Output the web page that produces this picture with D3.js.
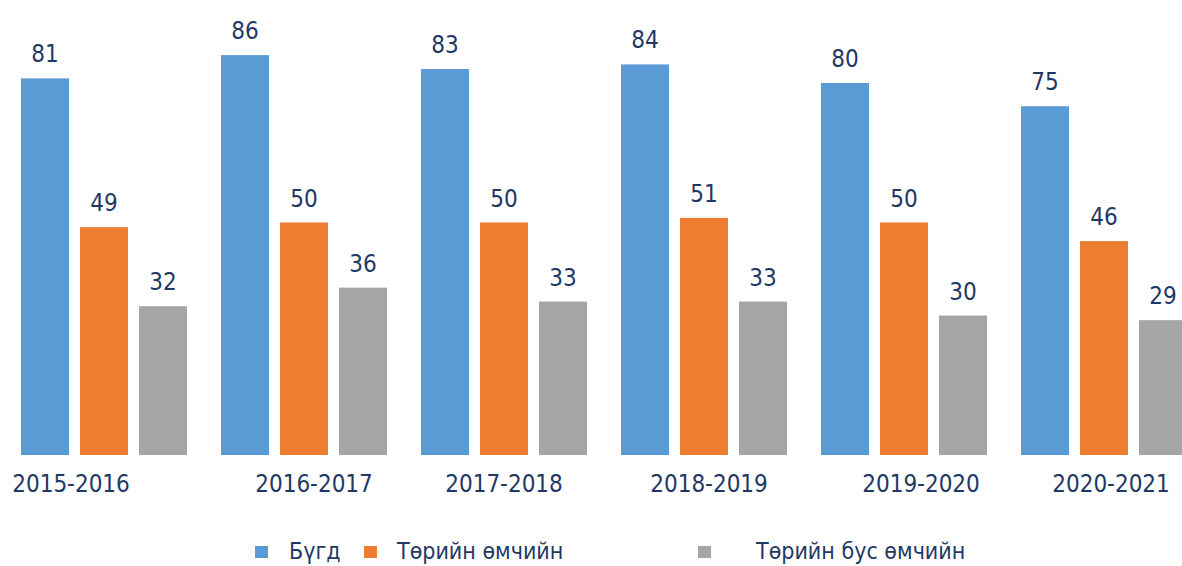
<!DOCTYPE html>
<html>
<head>
<meta charset="utf-8">
<script src="https://cdn.jsdelivr.net/npm/d3@7"></script>
<style>
  body { margin: 0; background: #fff; }
  svg text { font-family: "DejaVu Sans Condensed", "DejaVu Sans", sans-serif; fill: #1f3864; }
</style>
</head>
<body>
<svg id="chart" width="1182" height="566"></svg>
<script>
// chart data
var years = ["2015-2016", "2016-2017", "2017-2018", "2018-2019", "2019-2020", "2020-2021"];
var seriesNames = ["Бүгд", "Төрийн өмчийн", "Төрийн бус өмчийн"];
var total = [81, 86, 83, 84, 80, 75];
var stateOwned = [49, 50, 50, 51, 50, 46];
var nonState = [32, 36, 33, 33, 30, 29];

// layout bits (not data)
var colors = ["#5b9bd5", "#ed7d31", "#a5a5a5"];
var labelShift = [-33, 10, 0, 5, 17, 7];
var legendX = [255, 364, 698];
var legendTextX = [289, 397, 756];

var values = [total, stateOwned, nonState];
var baseline = 455;

var chart = d3.select("#chart");

var x = d3.scaleBand()
  .domain(years)
  .range([4, 1204])
  .paddingInner(0.17)
  .paddingOuter(0.085);

var xs = d3.scaleBand()
  .domain(seriesNames)
  .range([0, x.bandwidth()])
  .paddingInner(0.1864);

var y = d3.scaleLinear().domain([0, 100]).range([baseline, -10]);

// bars + value labels
var group = chart.selectAll("g.year")
  .data(years)
  .enter().append("g")
  .attr("class", "year")
  .attr("transform", function(d){ return "translate(" + x(d) + ",0)"; });

group.each(function(year, i){
  var g = d3.select(this);
  seriesNames.forEach(function(name, s){
    var v = values[s][i];
    g.append("rect")
      .attr("x", xs(name))
      .attr("y", y(v))
      .attr("width", xs.bandwidth())
      .attr("height", baseline - y(v))
      .attr("fill", colors[s]);
    g.append("text")
      .attr("x", xs(name) + xs.bandwidth() / 2)
      .attr("y", y(v) - 16)
      .attr("text-anchor", "middle")
      .style("font-size", "24px")
      .text(v);
  });
});

// category labels
var xAxis = d3.axisBottom(x).tickSize(0).tickPadding(0);
var axisG = chart.append("g")
  .attr("transform", "translate(0," + baseline + ")")
  .call(xAxis);
axisG.select(".domain").remove();
axisG.selectAll(".tick text")
  .attr("dy", 0)
  .attr("y", 37)
  .attr("x", function(d, i){ return labelShift[i]; })
  .style("font-size", "24px")
  .style("font-family", "DejaVu Sans Condensed, DejaVu Sans, sans-serif")
  .attr("fill", "#1f3864");

// legend
var legend = chart.selectAll("g.legend")
  .data(seriesNames)
  .enter().append("g")
  .attr("class", "legend");

legend.append("rect")
  .attr("x", function(d, i){ return legendX[i]; })
  .attr("y", 546)
  .attr("width", 13)
  .attr("height", 12)
  .attr("fill", function(d, i){ return colors[i]; });

legend.append("text")
  .attr("x", function(d, i){ return legendTextX[i]; })
  .attr("y", 559)
  .style("font-size", "23px")
  .text(function(d){ return d; });
</script>
</body>
</html>
